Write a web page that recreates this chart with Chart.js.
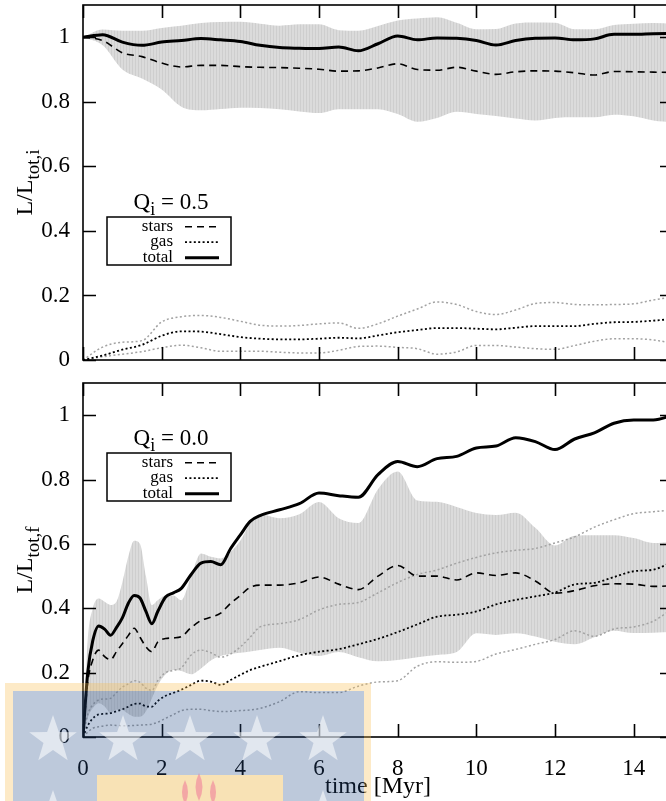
<!DOCTYPE html>
<html>
<head>
<meta charset="utf-8">
<script src="https://cdn.jsdelivr.net/npm/chart.js@4.4.1/dist/chart.umd.min.js"></script>
<style>
  html, body { margin: 0; padding: 0; background: #fff; overflow: hidden; }
  #wrap { position: relative; width: 666px; height: 801px; overflow: hidden; background: #fff; }
  #wrap canvas { position: absolute; left: 0; }
</style>
</head>
<body>
<div id="wrap">
  <canvas id="topChart" width="680" height="372" style="top:0"></canvas>
  <canvas id="bottomChart" width="680" height="429" style="top:372px"></canvas>
</div>
<script>
// ---- Q_i = 0.5 run, normalised to initial total ----
const tTop = [0, 0.5, 1, 1.5, 2, 2.5, 3, 3.5, 4, 4.5, 5, 5.5, 6, 6.5, 7, 7.5, 8, 8.5, 9, 9.5,
              10, 10.5, 11, 11.5, 12, 12.5, 13, 13.5, 14, 14.5, 15];
const totalTop = [1.0, 1.008, 0.985, 0.975, 0.985, 0.99, 0.996, 0.992, 0.987, 0.975, 0.968, 0.966, 0.965, 0.97, 0.958, 0.98,
                  1.004, 0.992, 0.998, 0.997, 0.99, 0.976, 0.99, 0.997, 0.998, 0.992, 0.995, 1.009, 1.009, 1.011, 1.012];
const starsTop = [1.0, 0.99, 0.952, 0.94, 0.92, 0.908, 0.913, 0.913, 0.909, 0.907, 0.906, 0.904, 0.901, 0.895, 0.896, 0.905,
                  0.918, 0.9, 0.898, 0.907, 0.895, 0.885, 0.893, 0.896, 0.895, 0.89, 0.883, 0.894, 0.893, 0.892, 0.891];
const starsTopHi = [1.0, 1.024, 1.02, 1.02, 1.029, 1.036, 1.044, 1.047, 1.048, 1.042, 1.036, 1.04, 1.04, 1.022, 1.02, 1.035,
                    1.052, 1.058, 1.062, 1.045, 1.025, 1.026, 1.043, 1.046, 1.045, 1.025, 1.025, 1.038, 1.042, 1.044, 1.041];
const starsTopLo = [1.0, 0.975, 0.9, 0.872, 0.838, 0.785, 0.774, 0.778, 0.782, 0.781, 0.777, 0.77, 0.765, 0.777, 0.777, 0.777,
                    0.762, 0.738, 0.75, 0.769, 0.762, 0.756, 0.748, 0.742, 0.75, 0.752, 0.752, 0.76, 0.755, 0.742, 0.736];
const gasTop = [0, 0.014, 0.032, 0.047, 0.075, 0.089, 0.088, 0.08, 0.071, 0.066, 0.064, 0.064, 0.066, 0.069, 0.067, 0.076,
                0.086, 0.093, 0.099, 0.099, 0.097, 0.095, 0.1, 0.105, 0.105, 0.105, 0.112, 0.117, 0.118, 0.122, 0.127];
const gasTopHi = [0, 0.04, 0.055, 0.06, 0.118, 0.134, 0.138, 0.132, 0.12, 0.108, 0.105, 0.107, 0.112, 0.115, 0.098, 0.112,
                  0.136, 0.158, 0.18, 0.172, 0.15, 0.141, 0.155, 0.175, 0.178, 0.172, 0.171, 0.172, 0.174, 0.186, 0.195];
const gasTopLo = [0, 0.01, 0.018, 0.026, 0.038, 0.046, 0.038, 0.027, 0.027, 0.027, 0.024, 0.022, 0.022, 0.03, 0.042, 0.043,
                  0.039, 0.035, 0.018, 0.025, 0.045, 0.045, 0.04, 0.035, 0.033, 0.045, 0.058, 0.066, 0.066, 0.062, 0.052];

// ---- Q_i = 0.0 run, normalised to final total ----
const tBot = [0, 0.12, 0.25, 0.4, 0.55, 0.7, 0.85, 1, 1.15, 1.3, 1.45, 1.6, 1.75, 1.9, 2.1, 2.3, 2.5, 2.75,
              3, 3.25, 3.5, 3.75, 4, 4.25, 4.5, 5, 5.5, 6, 6.5, 7, 7.5, 8, 8.5, 9, 9.5, 10, 10.5, 11, 11.5,
              12, 12.5, 13, 13.5, 14, 14.5, 15];
const totalBot = [0, 0.2, 0.3, 0.345, 0.335, 0.316, 0.34, 0.37, 0.415, 0.44, 0.432, 0.39, 0.352, 0.39, 0.435, 0.448, 0.462, 0.505,
                  0.54, 0.545, 0.535, 0.585, 0.628, 0.67, 0.688, 0.706, 0.725, 0.758, 0.75, 0.745, 0.815, 0.856, 0.84, 0.865, 0.872,
                  0.898, 0.904, 0.93, 0.918, 0.893, 0.926, 0.945, 0.975, 0.985, 0.985, 1.0];
const starsBot = [0, 0.17, 0.24, 0.27, 0.25, 0.24, 0.265, 0.29, 0.315, 0.338, 0.31, 0.28, 0.265, 0.295, 0.306, 0.308, 0.312, 0.34,
                  0.362, 0.372, 0.385, 0.415, 0.44, 0.465, 0.472, 0.472, 0.479, 0.497, 0.475, 0.458, 0.5, 0.533, 0.5, 0.5, 0.488,
                  0.51, 0.502, 0.51, 0.485, 0.447, 0.455, 0.47, 0.476, 0.475, 0.468, 0.47];
const starsBotHi = [0, 0.3, 0.4, 0.43, 0.42, 0.41, 0.42, 0.48, 0.56, 0.61, 0.6, 0.5, 0.41, 0.425, 0.44, 0.44, 0.425, 0.5,
                    0.57, 0.56, 0.555, 0.575, 0.61, 0.664, 0.692, 0.68, 0.692, 0.73, 0.68, 0.665, 0.77, 0.825, 0.735, 0.731, 0.715,
                    0.696, 0.69, 0.697, 0.65, 0.595, 0.625, 0.627, 0.627, 0.618, 0.603, 0.607];
const starsBotLo = [0, 0.06, 0.09, 0.105, 0.095, 0.075, 0.085, 0.084, 0.072, 0.063, 0.063, 0.08, 0.12, 0.16, 0.195, 0.208, 0.205, 0.195,
                    0.213, 0.238, 0.252, 0.258, 0.262, 0.266, 0.27, 0.277, 0.262, 0.252, 0.264, 0.248, 0.235, 0.239, 0.248, 0.255, 0.264,
                    0.322, 0.317, 0.322, 0.312, 0.296, 0.288, 0.31, 0.33, 0.323, 0.324, 0.326];
const gasBot = [0, 0.035, 0.058, 0.07, 0.072, 0.074, 0.08, 0.086, 0.094, 0.103, 0.104, 0.095, 0.094, 0.112, 0.128, 0.137, 0.147, 0.162,
                0.175, 0.172, 0.162, 0.177, 0.193, 0.208, 0.218, 0.236, 0.254, 0.265, 0.273, 0.288, 0.305, 0.326, 0.35, 0.374, 0.38,
                0.39, 0.412, 0.426, 0.437, 0.449, 0.474, 0.479, 0.497, 0.515, 0.52, 0.545];
const gasBotHi = [0, 0.07, 0.1, 0.115, 0.118, 0.12, 0.138, 0.155, 0.165, 0.175, 0.17, 0.152, 0.145, 0.175, 0.2, 0.207, 0.215, 0.255,
                  0.27, 0.262, 0.248, 0.258, 0.28, 0.31, 0.342, 0.352, 0.365, 0.395, 0.412, 0.418, 0.448, 0.48, 0.505, 0.519, 0.54,
                  0.558, 0.572, 0.58, 0.586, 0.603, 0.622, 0.652, 0.675, 0.694, 0.7, 0.706];
const gasBotLo = [0, 0.015, 0.027, 0.032, 0.035, 0.037, 0.036, 0.035, 0.035, 0.036, 0.037, 0.038, 0.04, 0.046, 0.058, 0.07, 0.082, 0.086,
                  0.086, 0.082, 0.079, 0.08, 0.082, 0.084, 0.089, 0.11, 0.141, 0.138, 0.138, 0.158, 0.171, 0.175, 0.22, 0.234, 0.232,
                  0.235, 0.258, 0.272, 0.288, 0.303, 0.33, 0.313, 0.336, 0.342, 0.36, 0.4];

const xTicks = [0, 2, 4, 6, 8, 10, 12, 14];
const yTicks = [0, 0.2, 0.4, 0.6, 0.8, 1];
const keyLabels = ['stars', 'gas', 'total'];

const SERIF = '"Liberation Serif", "Times New Roman", serif';

function pts(t, v) {
  return t.map((x, i) => ({ x: x, y: v[i] }));
}

// fine vertical hatching used for the stellar spread
function hatch(canvas) {
  const c = document.createElement('canvas');
  c.width = 3; c.height = 4;
  const g = c.getContext('2d');
  g.fillStyle = '#dbdbdb'; g.fillRect(0, 0, 3, 4);
  g.fillStyle = '#cecece'; g.fillRect(0, 0, 1, 4);
  return canvas.getContext('2d').createPattern(c, 'repeat');
}

function datasets(t, total, stars, starsHi, starsLo, gas, gasHi, gasLo, pattern) {
  const none = 'rgba(0,0,0,0)';
  return [
    { label: 'total', data: pts(t, total), borderColor: '#000', borderWidth: 3 },
    { label: 'stars', data: pts(t, stars), borderColor: '#000', borderWidth: 1.6, borderDash: [7, 5] },
    { label: 'gas', data: pts(t, gas), borderColor: '#000', borderWidth: 1.8, borderDash: [2, 2.4] },
    { label: 'gas hi', data: pts(t, gasHi), borderColor: '#a2a2a2', borderWidth: 1.5, borderDash: [2, 2.4] },
    { label: 'gas lo', data: pts(t, gasLo), borderColor: '#a2a2a2', borderWidth: 1.5, borderDash: [2, 2.4] },
    { label: 'stars hi', data: pts(t, starsHi), borderColor: none, borderWidth: 1, backgroundColor: pattern, fill: '+1' },
    { label: 'stars lo', data: pts(t, starsLo), borderColor: none, borderWidth: 1, fill: false }
  ];
}

// box border with inward ticks on all four sides
const frame = {
  id: 'frame',
  afterDatasetsDraw(chart) {
    const { ctx, chartArea: a } = chart;
    const x = chart.scales.x, y = chart.scales.y;
    ctx.save();
    ctx.strokeStyle = '#000';
    ctx.lineWidth = 1.6;
    ctx.setLineDash([]);
    ctx.strokeRect(a.left, a.top, a.right - a.left, a.bottom - a.top);
    ctx.beginPath();
    xTicks.forEach(v => {
      const p = Math.round(x.getPixelForValue(v)) + 0.5;
      ctx.moveTo(p, a.bottom); ctx.lineTo(p, a.bottom - 13);
      ctx.moveTo(p, a.top); ctx.lineTo(p, a.top + 13);
    });
    yTicks.forEach(v => {
      const p = Math.round(y.getPixelForValue(v)) + 0.5;
      ctx.moveTo(a.left, p); ctx.lineTo(a.left + 13, p);
      ctx.moveTo(a.right, p); ctx.lineTo(a.right - 13, p);
    });
    ctx.stroke();
    ctx.restore();
  }
};

// text with a lowered subscript: parts = [[text, isSub], ...]
function subText(ctx, parts, size) {
  const subSize = Math.round(size * 0.78);
  let w = 0;
  parts.forEach(p => {
    ctx.font = (p[1] ? subSize : size) + 'px ' + SERIF;
    p.w = ctx.measureText(p[0]).width;
    w += p.w;
  });
  return { w: w, draw(x, y) {
    parts.forEach(p => {
      ctx.font = (p[1] ? subSize : size) + 'px ' + SERIF;
      ctx.fillText(p[0], x, p[1] ? y + size * 0.28 : y);
      x += p.w;
    });
  } };
}

// y title, Q_i caption and the line key
const panelText = {
  id: 'panelText',
  afterDraw(chart, args, o) {
    const { ctx, chartArea: a } = chart;
    ctx.save();
    ctx.fillStyle = '#000';
    ctx.textAlign = 'left';
    ctx.textBaseline = 'alphabetic';

    const yl = subText(ctx, [['L/L', false], [o.sub, true]], 24);
    ctx.save();
    ctx.translate(32, (a.top + a.bottom) / 2);
    ctx.rotate(-Math.PI / 2);
    yl.draw(-yl.w / 2, 0);
    ctx.restore();

    const q = subText(ctx, [['Q', false], ['i', true], [' = ' + o.q, false]], 23);
    q.draw(171 - q.w / 2, o.keyTop - 8);

    const left = 107, right = 231;
    ctx.strokeStyle = '#000';
    ctx.lineWidth = 1.5;
    ctx.strokeRect(left, o.keyTop, right - left, 48);
    ctx.font = '17px ' + SERIF;
    ctx.textAlign = 'right';
    keyLabels.forEach((name, i) => {
      const ds = chart.data.datasets.find(d => d.label === name);
      const yb = o.keyTop + 13.7 + 15.5 * i;
      ctx.fillText(name, 173, yb);
      ctx.beginPath();
      ctx.setLineDash(ds.borderDash || []);
      ctx.lineWidth = ds.borderWidth;
      ctx.moveTo(185, yb - 4);
      ctx.lineTo(219, yb - 4);
      ctx.stroke();
    });
    ctx.restore();
  }
};

function star(ctx, cx, cy, r) {
  ctx.beginPath();
  for (let k = 0; k < 10; k++) {
    const rr = k % 2 ? r * 0.4 : r;
    const ang = -Math.PI / 2 + k * Math.PI / 5;
    ctx.lineTo(cx + rr * Math.cos(ang), cy + rr * Math.sin(ang));
  }
  ctx.closePath();
  ctx.fill();
}

// faded crest stamped over the lower-left corner
const crest = {
  id: 'crest',
  afterDraw(chart) {
    const ctx = chart.ctx;
    ctx.save();
    ctx.translate(0, -372);
    ctx.fillStyle = 'rgba(250,190,80,0.32)';
    ctx.fillRect(5, 683, 366, 8);
    ctx.fillRect(5, 691, 8, 110);
    ctx.fillRect(364, 691, 7, 110);
    ctx.fillStyle = 'rgba(35,75,135,0.3)';
    ctx.fillRect(13, 691, 351, 110);
    ctx.fillStyle = 'rgba(255,255,255,0.55)';
    [53, 123, 190, 257, 323].forEach(cx => star(ctx, cx, 740, 25));
    [53, 323].forEach(cx => star(ctx, cx, 815, 25));
    ctx.fillStyle = 'rgba(253,228,178,0.93)';
    ctx.fillRect(97, 775, 186, 26);
    ctx.fillStyle = 'rgba(240,110,150,0.5)';
    [[185, 792, 6], [199, 787, 7], [213, 792, 6]].forEach(f => {
      ctx.beginPath();
      ctx.moveTo(f[0], f[1] - 2 * f[2]);
      ctx.quadraticCurveTo(f[0] + f[2], f[1], f[0], f[1] + 2 * f[2]);
      ctx.quadraticCurveTo(f[0] - f[2], f[1], f[0], f[1] - 2 * f[2]);
      ctx.fill();
    });
    ctx.restore();
  }
};

function makeChart(id, dsets, text, bottomAxis) {
  const cv = document.getElementById(id);
  return new Chart(cv, {
    type: 'line',
    data: { datasets: dsets },
    plugins: bottomAxis ? [frame, panelText, crest] : [frame, panelText],
    options: {
      responsive: false,
      animation: false,
      events: [],
      layout: { padding: { top: bottomAxis ? 11 : 5, right: 7, left: 0, bottom: 0 } },
      elements: {
        point: { radius: 0 },
        line: { cubicInterpolationMode: 'monotone' }
      },
      plugins: {
        legend: { display: false },
        tooltip: { enabled: false },
        filler: { drawTime: 'beforeDatasetsDraw' },
        panelText: text
      },
      scales: {
        x: {
          type: 'linear', min: 0, max: 15,
          grid: { display: false, drawTicks: false },
          border: { display: false },
          afterBuildTicks: s => { s.ticks = xTicks.map(v => ({ value: v })); },
          afterFit: s => {
            s.height = bottomAxis ? 64 : 12;
            s.paddingLeft = 0; s.paddingRight = 0;
          },
          ticks: {
            display: bottomAxis, padding: 18, maxRotation: 0, autoSkip: false,
            color: '#000', font: { family: SERIF, size: 23 }
          },
          title: {
            display: bottomAxis, text: 'time [Myr]', color: '#000',
            font: { family: SERIF, size: 24 }, padding: { top: 0, bottom: 0 }
          }
        },
        y: {
          type: 'linear', min: 0, max: 1.1,
          grid: { display: false, drawTicks: false },
          border: { display: false },
          afterBuildTicks: s => { s.ticks = yTicks.map(v => ({ value: v })); },
          afterFit: s => {
            s.width = 83;
            s.paddingTop = 0; s.paddingBottom = 0;
          },
          ticks: {
            padding: 13, color: '#000', font: { family: SERIF, size: 23 },
            callback: v => String(+v.toFixed(1))
          }
        }
      }
    }
  });
}

const topCanvas = document.getElementById('topChart');
const botCanvas = document.getElementById('bottomChart');

makeChart('topChart',
  datasets(tTop, totalTop, starsTop, starsTopHi, starsTopLo, gasTop, gasTopHi, gasTopLo, hatch(topCanvas)),
  { sub: 'tot,i', q: '0.5', keyTop: 217 }, false);

makeChart('bottomChart',
  datasets(tBot, totalBot, starsBot, starsBotHi, starsBotLo, gasBot, gasBotHi, gasBotLo, hatch(botCanvas)),
  { sub: 'tot,f', q: '0.0', keyTop: 81 }, true);
</script>
</body>
</html>
